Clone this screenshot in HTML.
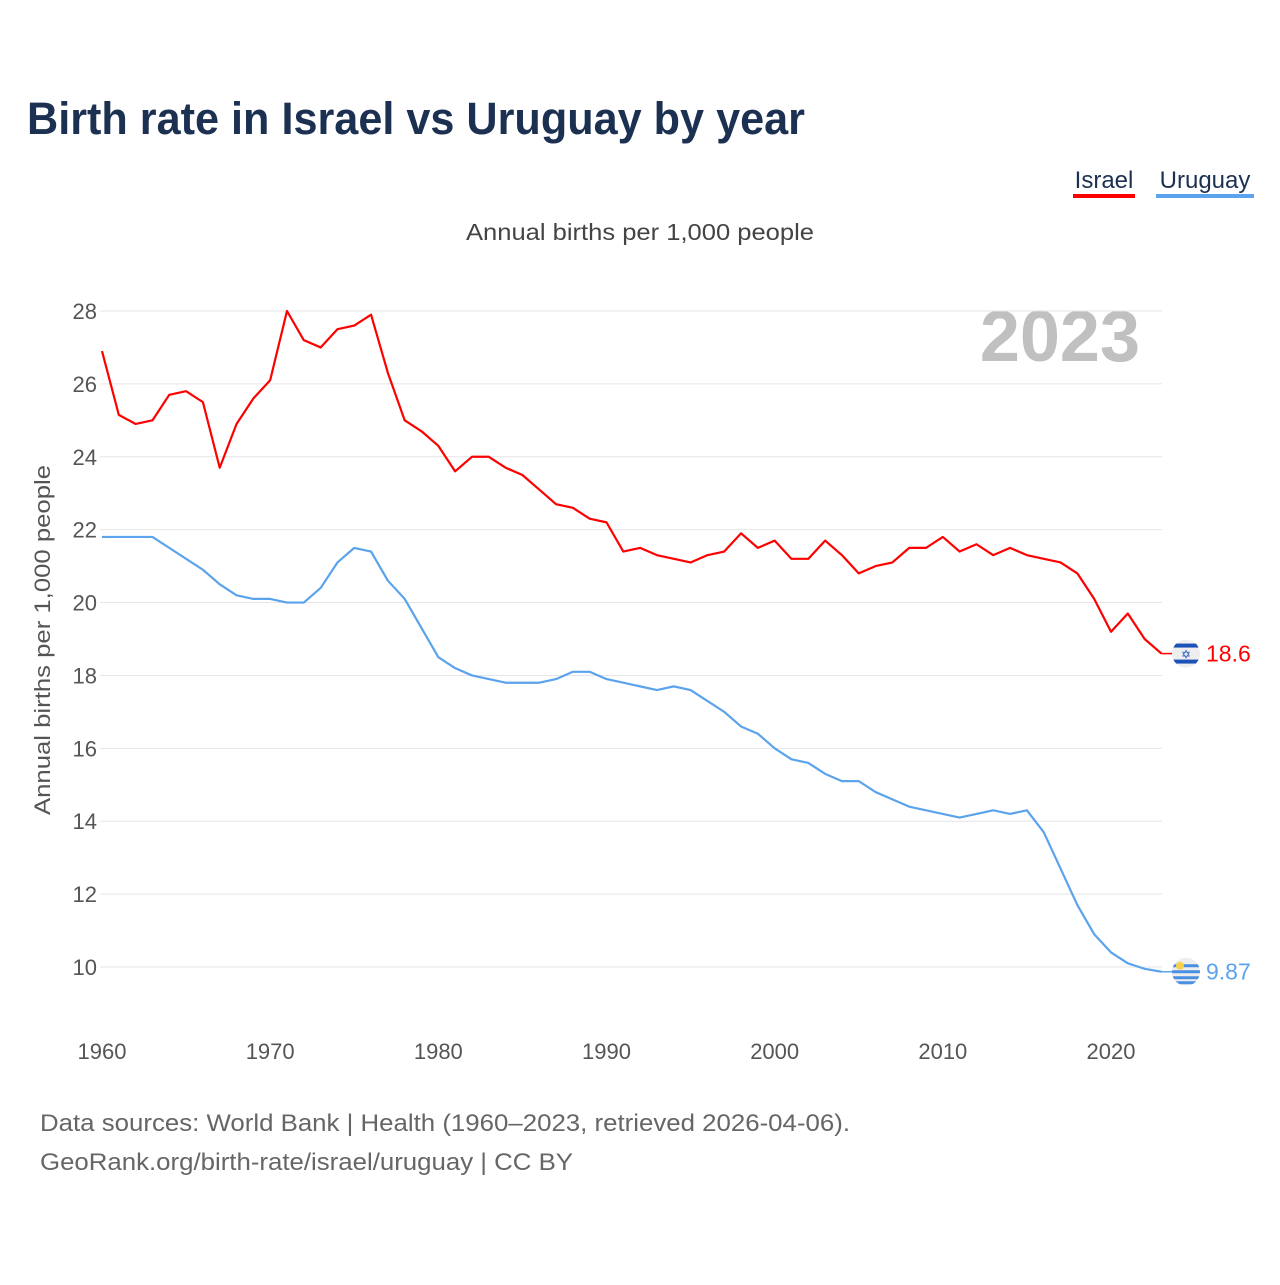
<!DOCTYPE html>
<html><head><meta charset="utf-8">
<style>
body{margin:0;background:#fff;font-family:"Liberation Sans",sans-serif;}
svg text{font-family:"Liberation Sans",sans-serif;}
</style></head>
<body>
<svg id="chart" width="1280" height="1280" viewBox="0 0 1280 1280">
<text x="27" y="134" font-size="45" font-weight="bold" fill="#1c3152" textLength="778" lengthAdjust="spacingAndGlyphs">Birth rate in Israel vs Uruguay by year</text>
<g>
<text x="1104" y="188" font-size="24" fill="#1c3152" text-anchor="middle">Israel</text>
<rect x="1073" y="194" width="62" height="4" fill="#ff0000"/></g>
<g>
<text x="1205" y="188" font-size="24" fill="#1c3152" text-anchor="middle">Uruguay</text>
<rect x="1156" y="194" width="98" height="4" fill="#5ba3ec"/></g>
<text x="466" y="240" font-size="23" fill="#444" textLength="348" lengthAdjust="spacingAndGlyphs">Annual births per 1,000 people</text>
<text x="1140" y="361" font-size="72" font-weight="bold" fill="#c0c0c0" text-anchor="end">2023</text>
<text transform="translate(50,815) rotate(-90)" font-size="22" fill="#555" textLength="350" lengthAdjust="spacingAndGlyphs">Annual births per 1,000 people</text>
<g id="grid"></g><g id="lines"></g>
<text x="40" y="1131" font-size="24" fill="#666" textLength="810" lengthAdjust="spacingAndGlyphs">Data sources: World Bank | Health (1960–2023, retrieved 2026-04-06).</text>
<text x="40" y="1170" font-size="24" fill="#666" textLength="533" lengthAdjust="spacingAndGlyphs">GeoRank.org/birth-rate/israel/uruguay | CC BY</text>
</svg>
<script>
const yTicks=[10,12,14,16,18,20,22,24,26,28];
const xTicks=[1960,1970,1980,1990,2000,2010,2020];
const years=[];for(let y=1960;y<=2023;y++)years.push(y);
const israel=[26.9,25.15,24.9,25.0,25.7,25.8,25.5,23.7,24.9,25.6,26.1,28.0,27.2,27.0,27.5,27.6,27.9,26.3,25.0,24.7,24.3,23.6,24.0,24.0,23.7,23.5,23.1,22.7,22.6,22.3,22.2,21.4,21.5,21.3,21.2,21.1,21.3,21.4,21.9,21.5,21.7,21.2,21.2,21.7,21.3,20.8,21.0,21.1,21.5,21.5,21.8,21.4,21.6,21.3,21.5,21.3,21.2,21.1,20.8,20.1,19.2,19.7,19.0,18.6];
const uruguay=[21.8,21.8,21.8,21.8,21.5,21.2,20.9,20.5,20.2,20.1,20.1,20.0,20.0,20.4,21.1,21.5,21.4,20.6,20.1,19.3,18.5,18.2,18.0,17.9,17.8,17.8,17.8,17.9,18.1,18.1,17.9,17.8,17.7,17.6,17.7,17.6,17.3,17.0,16.6,16.4,16.0,15.7,15.6,15.3,15.1,15.1,14.8,14.6,14.4,14.3,14.2,14.1,14.2,14.3,14.2,14.3,13.7,12.7,11.7,10.9,10.4,10.1,9.95,9.87];
const NS="http://www.w3.org/2000/svg";
const X=v=>102+(v-1960)*(1009/60);
const Y=v=>967-(v-10)*(656/18);
function mk(tag,attrs,parent){const e=document.createElementNS(NS,tag);for(const k in attrs)e.setAttribute(k,attrs[k]);parent.appendChild(e);return e;}
const grid=document.getElementById('grid'),lines=document.getElementById('lines');
yTicks.forEach(t=>{
 const l=mk('line',{x1:100,x2:1162,y1:Y(t),y2:Y(t),stroke:'#e6e6e6','stroke-width':1},grid);
 
 
 const tx=mk('text',{x:97,y:Y(t)+8,'font-size':22,fill:'#555','text-anchor':'end'},grid);tx.textContent=t;
 
 
});
xTicks.forEach(t=>{
 const tx=mk('text',{x:X(t),y:1059,'font-size':22,fill:'#555','text-anchor':'middle'},grid);tx.textContent=t;
 
 
});
function series(vals,color,name){
 const p=mk('polyline',{points:vals.map((v,i)=>X(years[i])+','+Y(v)).join(' '),fill:'none',stroke:color,'stroke-width':2.2,'stroke-linejoin':'round'},lines);
 
 
}
series(israel,'#ff0000','israel');
series(uruguay,'#5ba3ec','uruguay');
const li=israel[israel.length-1],lu=uruguay[uruguay.length-1],xe=X(2023);
mk('line',{x1:xe,x2:1172,y1:Y(li),y2:Y(li),stroke:'#ff0000','stroke-width':1.5},lines);
mk('line',{x1:xe,x2:1172,y1:Y(lu),y2:Y(lu),stroke:'#5ba3ec','stroke-width':1.5},lines);
const defs=mk('defs',{},lines);
const c1=mk('clipPath',{id:'c1'},defs);
const c2=mk('clipPath',{id:'c2'},defs);
const cy1=Y(li),cy2=Y(lu);
mk('circle',{cx:1186,cy:cy1,r:14},c1);
mk('circle',{cx:1186,cy:cy2,r:14},c2);
const fi=mk('g',{'clip-path':'url(#c1)'},lines);


mk('rect',{x:1172,y:cy1-14,width:28,height:28,fill:'#eeeeee'},fi);
mk('rect',{x:1172,y:cy1-10,width:28,height:4,fill:'#1a52b8'},fi);
mk('rect',{x:1172,y:cy1+6,width:28,height:4,fill:'#1a52b8'},fi);
const st=mk('text',{x:1186,y:cy1+5,'font-size':12,fill:'#1a52b8','text-anchor':'middle'},fi);st.textContent='✡';
const vi=mk('text',{x:1206,y:cy1+8,'font-size':23,fill:'#ff0000'},lines);vi.textContent='18.6';


const fu=mk('g',{'clip-path':'url(#c2)'},lines);


mk('rect',{x:1172,y:cy2-14,width:28,height:28,fill:'#eeeeee'},fu);
[-6,0,6,11].forEach(d=>mk('rect',{x:1172,y:cy2+d-1.5,width:28,height:3,fill:'#4a90e2'},fu));
mk('circle',{cx:1180,cy:cy2-6,r:4,fill:'#f9d04a'},fu);
const vu=mk('text',{x:1206,y:cy2+8,'font-size':23,fill:'#5ba3ec'},lines);vu.textContent='9.87';


</script>
</body></html>
